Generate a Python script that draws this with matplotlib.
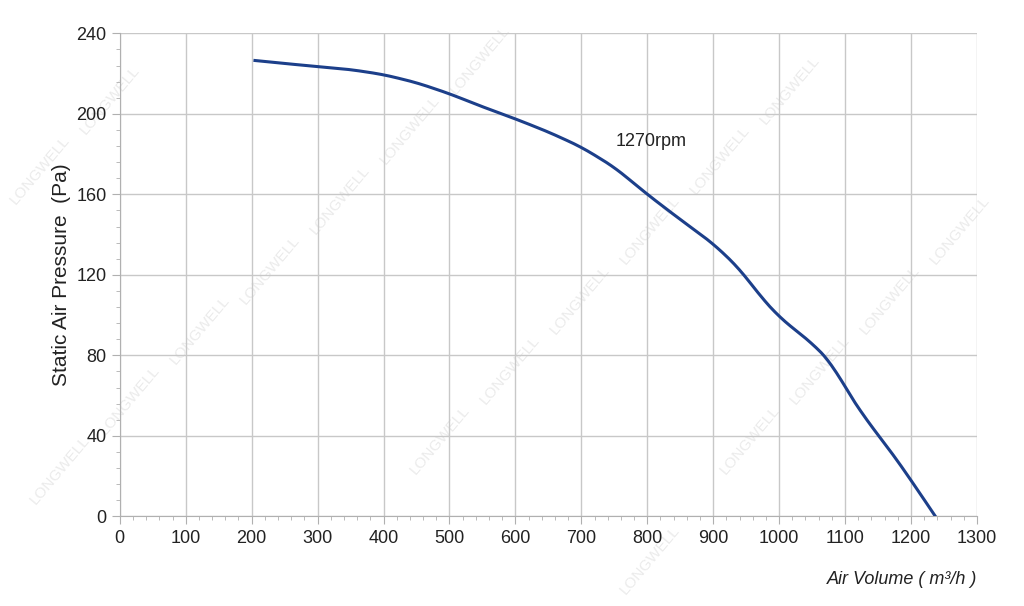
import matplotlib.pyplot as plt
import numpy as np
from matplotlib.ticker import MultipleLocator

plt.rcParams['font.family'] = ['Liberation Sans', 'DejaVu Sans']

# curve
air_volume = [205, 250, 300, 350, 400, 450, 500, 550, 600, 650, 700, 750, 800, 850, 900,
              940, 970, 1000, 1050, 1080, 1100, 1130, 1170, 1200, 1237]
pressure = [226.5, 225, 223.5, 222, 219.5, 215.5, 210, 203.5, 197.5, 191, 183.5, 173.5, 160, 147.5, 135.5,
            123, 110, 99, 86, 76, 64, 49, 32, 18, 0]

fig = plt.figure(figsize=(10.24, 6.06), dpi=100)
ax = fig.add_axes([0.117, 0.148, 0.837, 0.797])
ax.set_axisbelow(True)

# smooth the read points a bit
xs = np.linspace(air_volume[0], air_volume[-1], 400)
ys = np.interp(xs, air_volume, pressure)
k = np.ones(15) / 15
ys_s = np.convolve(np.pad(ys, 7, mode='reflect', reflect_type='odd'), k, mode='valid')
ax.plot(xs, ys_s, color='#1c3f8a', lw=2.2, zorder=3)

ax.set_xlim(0, 1300)
ax.set_ylim(0, 240)
ax.xaxis.set_major_locator(MultipleLocator(100))
ax.xaxis.set_minor_locator(MultipleLocator(20))
ax.yaxis.set_major_locator(MultipleLocator(40))
ax.yaxis.set_minor_locator(MultipleLocator(8))
ax.grid(True, which='major', color='#c8c8c8', lw=1)
for s in ['top', 'right']:
    ax.spines[s].set_visible(False)
for s in ['left', 'bottom']:
    ax.spines[s].set_color('#b0b0b0')
ax.tick_params(which='both', colors='#b0b0b0', labelcolor='#222222', labelsize=13)
ax.tick_params(which='major', length=6)
ax.tick_params(which='minor', length=3)

ax.set_ylabel('Static Air Pressure  (Pa)', fontsize=15, color='#222222')
ax.text(1300, -27, 'Air Volume ( m³/h )', fontsize=13, style='italic', ha='right', va='top', color='#222222')
ax.text(752, 184, '1270rpm', fontsize=13, color='#222222')

# watermark, drawn under grid and curve
for x0, y0 in [(60, 470), (130, 400), (200, 330), (270, 270), (340, 200), (410, 130), (480, 60),
               (440, 440), (510, 370), (580, 300), (650, 230), (720, 160), (790, 90),
               (750, 440), (820, 370), (890, 300), (960, 230), (40, 170), (110, 100), (650, 560)]:
    ax.text(x0 / 1024, 1 - y0 / 606, 'LONGWELL', rotation=50, fontsize=11, transform=fig.transFigure,
            color='#ebebeb', ha='center', va='center', zorder=0, clip_on=False)

fig.savefig('out.png')
